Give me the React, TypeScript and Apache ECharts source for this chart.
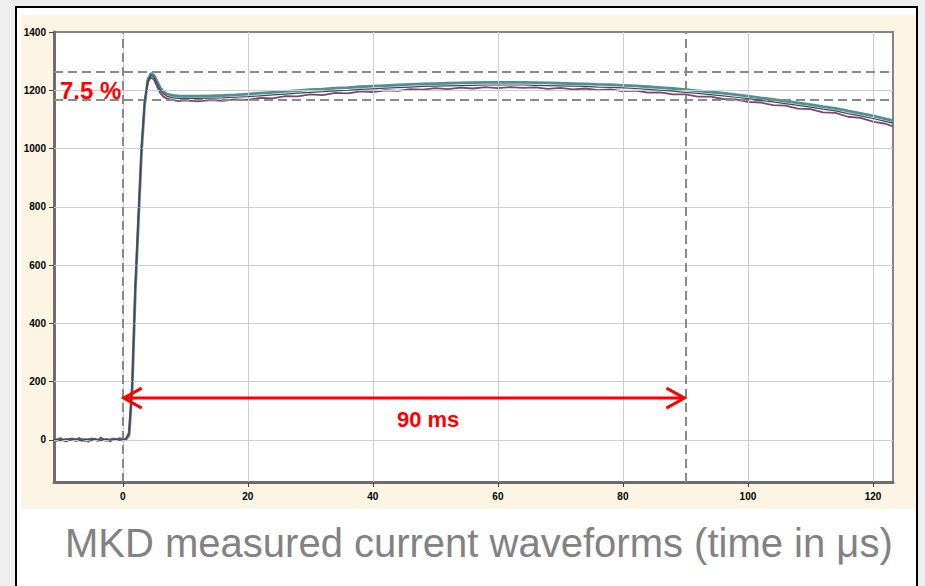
import React, { useEffect, useRef } from "react";
import * as echarts from "echarts";

// time axis (µs)
const X: number[] = [
  -11, -10.5, -10, -9.5, -9, -8.5, -8, -7.5, -7, -6.5, -6, -5.5, -5, -4.5, -4, -3.5, -3, -2.5, -2, -1.5, -1, -0.5, 0, 0.5,
  1, 1.5, 2, 2.5, 3, 3.5, 4, 4.5, 5, 5.5, 6, 6.5, 7,
  8, 9, 10,
  12, 14, 16, 18, 20, 22, 24, 26, 28, 30, 32, 34, 36, 38, 40, 42, 44, 46, 48, 50, 52, 54, 56, 58, 60,
  62, 64, 66, 68, 70, 72, 74, 76, 78, 80, 82, 84, 86, 88, 90, 92, 94, 96, 98, 100, 102, 104, 106, 108, 110,
  112, 114, 116, 118, 120, 122,
  123.2,
];

const SLATE: number[] = [
  0, 2, -3, 1, 4, -2, 0, 3, -1, -4, 2, 1, -2, 3, 0, -3, 2, 1, -1, 0, 2, -2, 1, 2,
  20, 180, 520, 760, 1000, 1160, 1232, 1252, 1245, 1222, 1200, 1188, 1180,
  1174, 1172, 1172,
  1172, 1173, 1174, 1176, 1178, 1181, 1184, 1187, 1190, 1193,
  1195, 1198, 1200, 1203, 1205, 1207, 1209, 1211, 1213, 1214,
  1215, 1216, 1217, 1218, 1218, 1218, 1218, 1217, 1216, 1215,
  1214, 1213, 1211, 1210, 1208, 1206, 1203, 1200, 1197, 1193,
  1189, 1185, 1181, 1176, 1171, 1165, 1160, 1154, 1148, 1142,
  1135, 1129, 1120, 1112, 1103, 1093,
  1087,
];

const TEAL: number[] = [
  1, -1, 2, 0, -2, 1, 3, -1, 0, 2, -3, 1, 0, 2, -1, 1, 0, -2, 1, 2, 0, 1, -1, 1,
  15, 170, 505, 750, 990, 1152, 1236, 1258, 1252, 1230, 1208, 1195, 1188,
  1182, 1180, 1180,
  1180, 1181, 1182, 1184, 1187, 1190, 1193, 1196, 1199, 1202,
  1204, 1207, 1209, 1212, 1214, 1216, 1218, 1220, 1222, 1223,
  1224, 1225, 1226, 1227, 1227, 1227, 1227, 1226, 1225, 1224,
  1223, 1222, 1220, 1219, 1217, 1215, 1212, 1209, 1206, 1202,
  1198, 1194, 1190, 1185, 1180, 1174, 1169, 1163, 1157, 1151,
  1144, 1138, 1129, 1121, 1112, 1102,
  1096,
];

const MAUVE: number[] = [
  3, -4, 6, -2, -6, 4, 1, -5, 7, -3, 2, -7, 5, 0, -4, 8, -2, 3, -6, 4, -1, 6, 2, 3,
  25, 190, 530, 770, 1005, 1162, 1226, 1245, 1236, 1212, 1190, 1178, 1172,
  1166, 1163, 1165,
  1162, 1166, 1164, 1169, 1167, 1174, 1172, 1180, 1179, 1186,
  1183, 1191, 1189, 1196, 1194, 1200, 1198, 1204, 1202, 1207,
  1204, 1209, 1206, 1211, 1207, 1211, 1208, 1210, 1205, 1208,
  1203, 1206, 1200, 1203, 1197, 1199, 1192, 1193, 1186, 1186,
  1178, 1178, 1170, 1169, 1160, 1158, 1149, 1147, 1137, 1135,
  1124, 1122, 1109, 1105, 1092, 1085,
  1076,
];

const X_TICKS: number[] = [0, 20, 40, 60, 80, 100, 120];
const Y_TICKS: number[] = [0, 200, 400, 600, 800, 1000, 1200, 1400];
const GRID_Y: number[] = [0, 200, 400, 600, 800, 1000, 1200];

const REF_X: number[] = [0, 90]; // dashed vertical markers
const REF_Y: number[] = [1262, 1169]; // dashed horizontal markers (7.5 % band)
const SPAN: number[] = [0, 90, 143]; // arrow start, end, level

const PERCENT_LABEL = "7.5 %";
const SPAN_LABEL = "90 ms";
const CAPTION = "MKD measured current waveforms (time in \u03bcs)";

const FONT = "'Liberation Sans', Arial, Helvetica, sans-serif";

export default function App() {
  const ref = useRef<HTMLDivElement>(null);

  useEffect(() => {
    if (!ref.current) return;
    const chart = echarts.init(ref.current, null, { renderer: "svg" });

    const lineSeries = (name: string, ys: number[], color: string, width: number, z: number) => ({
      type: "line",
      name,
      data: X.map((x, i) => [x, ys[i]]),
      showSymbol: false,
      symbol: "none",
      silent: true,
      z,
      lineStyle: { color, width },
    });

    const tickLabel = {
      show: true,
      color: "#000",
      fontFamily: FONT,
      fontWeight: "bold",
      fontSize: 10,
      formatter: (v: number) => String(v),
    };

    const option: any = {
      animation: false,
      backgroundColor: "#efefef",
      grid: {
        left: 54,
        top: 32,
        right: 32,
        bottom: 104,
        show: true,
        backgroundColor: "#ffffff",
        borderColor: "#858585",
        borderWidth: 2,
      },
      xAxis: {
        type: "value",
        min: -11,
        max: 123.2,
        axisLine: { show: true, onZero: false, lineStyle: { color: "#6e6e6e", width: 3 } },
        axisTick: { show: true, customValues: X_TICKS, length: 5, lineStyle: { color: "#444", width: 1 } },
        axisLabel: { ...tickLabel, customValues: X_TICKS, margin: 9 },
        splitLine: { show: false },
      },
      yAxis: {
        type: "value",
        min: -145,
        max: 1400,
        axisLine: { show: true, onZero: false, lineStyle: { color: "#6e6e6e", width: 3 } },
        axisTick: { show: true, customValues: Y_TICKS, length: 5, lineStyle: { color: "#444", width: 1 } },
        axisLabel: { ...tickLabel, customValues: Y_TICKS, margin: 8 },
        splitLine: { show: false },
      },
      graphic: [
        {
          type: "rect",
          z: -20,
          shape: { x: 16, y: 7, width: 901, height: 600 },
          style: { fill: "#ffffff", stroke: "#000000", lineWidth: 2 },
          silent: true,
        },
        {
          type: "rect",
          z: -19,
          shape: { x: 21, y: 15, width: 895, height: 494 },
          style: { fill: "#fcf5e4" },
          silent: true,
        },
        {
          type: "text",
          z: 100,
          x: 60,
          y: 90,
          style: {
            text: PERCENT_LABEL,
            fill: "#ff0000",
            font: `bold 24px ${FONT}`,
            verticalAlign: "middle",
            align: "left",
          },
          silent: true,
        },
        {
          type: "text",
          z: 100,
          x: 65,
          y: 543,
          style: {
            text: CAPTION,
            fill: "#828282",
            font: `40px ${FONT}`,
            verticalAlign: "middle",
            align: "left",
          },
          silent: true,
        },
      ],
      series: [
        {
          type: "line",
          data: [],
          silent: true,
          z: 1,
          markLine: {
            silent: true,
            symbol: "none",
            animation: false,
            label: { show: false },
            lineStyle: { color: "#cdcdcd", width: 1, type: "solid" },
            data: [
              ...X_TICKS.map((v) => ({ xAxis: v })),
              ...GRID_Y.map((v) => ({ yAxis: v })),
            ],
          },
        },
        {
          type: "line",
          data: [],
          silent: true,
          z: 2,
          markLine: {
            silent: true,
            symbol: "none",
            animation: false,
            label: { show: false },
            lineStyle: { color: "#8a8a8a", width: 2, type: [9, 5] },
            data: [
              ...REF_X.map((v) => ({ xAxis: v })),
              ...REF_Y.map((v) => ({ yAxis: v })),
            ],
          },
        },
        lineSeries("teal", TEAL, "#4e9096", 2.8, 3),
        lineSeries("mauve", MAUVE, "#7a4868", 1.8, 4),
        lineSeries("slate", SLATE, "#3a4a5c", 1.2, 5),
        {
          type: "custom",
          silent: true,
          z: 10,
          data: [SPAN],
          renderItem: (params: any, api: any) => {
            const a = api.coord([api.value(0), api.value(2)]);
            const b = api.coord([api.value(1), api.value(2)]);
            const red = "#ff0000";
            return {
              type: "group",
              children: [
                {
                  type: "line",
                  shape: { x1: a[0] + 1, y1: a[1], x2: b[0] - 1, y2: b[1] },
                  style: { stroke: red, lineWidth: 3 },
                },
                {
                  type: "polyline",
                  shape: { points: [[a[0] + 19, a[1] - 10], [a[0] + 1, a[1]], [a[0] + 19, a[1] + 10]] },
                  style: { stroke: red, lineWidth: 3, fill: "none" },
                },
                {
                  type: "polyline",
                  shape: { points: [[b[0] - 19, b[1] - 10], [b[0] - 1, b[1]], [b[0] - 19, b[1] + 10]] },
                  style: { stroke: red, lineWidth: 3, fill: "none" },
                },
                {
                  type: "text",
                  x: (a[0] + b[0]) / 2 + 24,
                  y: a[1] + 21,
                  style: {
                    text: SPAN_LABEL,
                    fill: red,
                    font: `bold 22px ${FONT}`,
                    align: "center",
                    verticalAlign: "middle",
                  },
                },
              ],
            };
          },
        },
      ],
    };

    chart.setOption(option);
    return () => {
      chart.dispose();
    };
  }, []);

  return (
    <div
      ref={ref}
      style={{ position: "fixed", left: 0, top: 0, width: 925, height: 586 }}
    />
  );
}
